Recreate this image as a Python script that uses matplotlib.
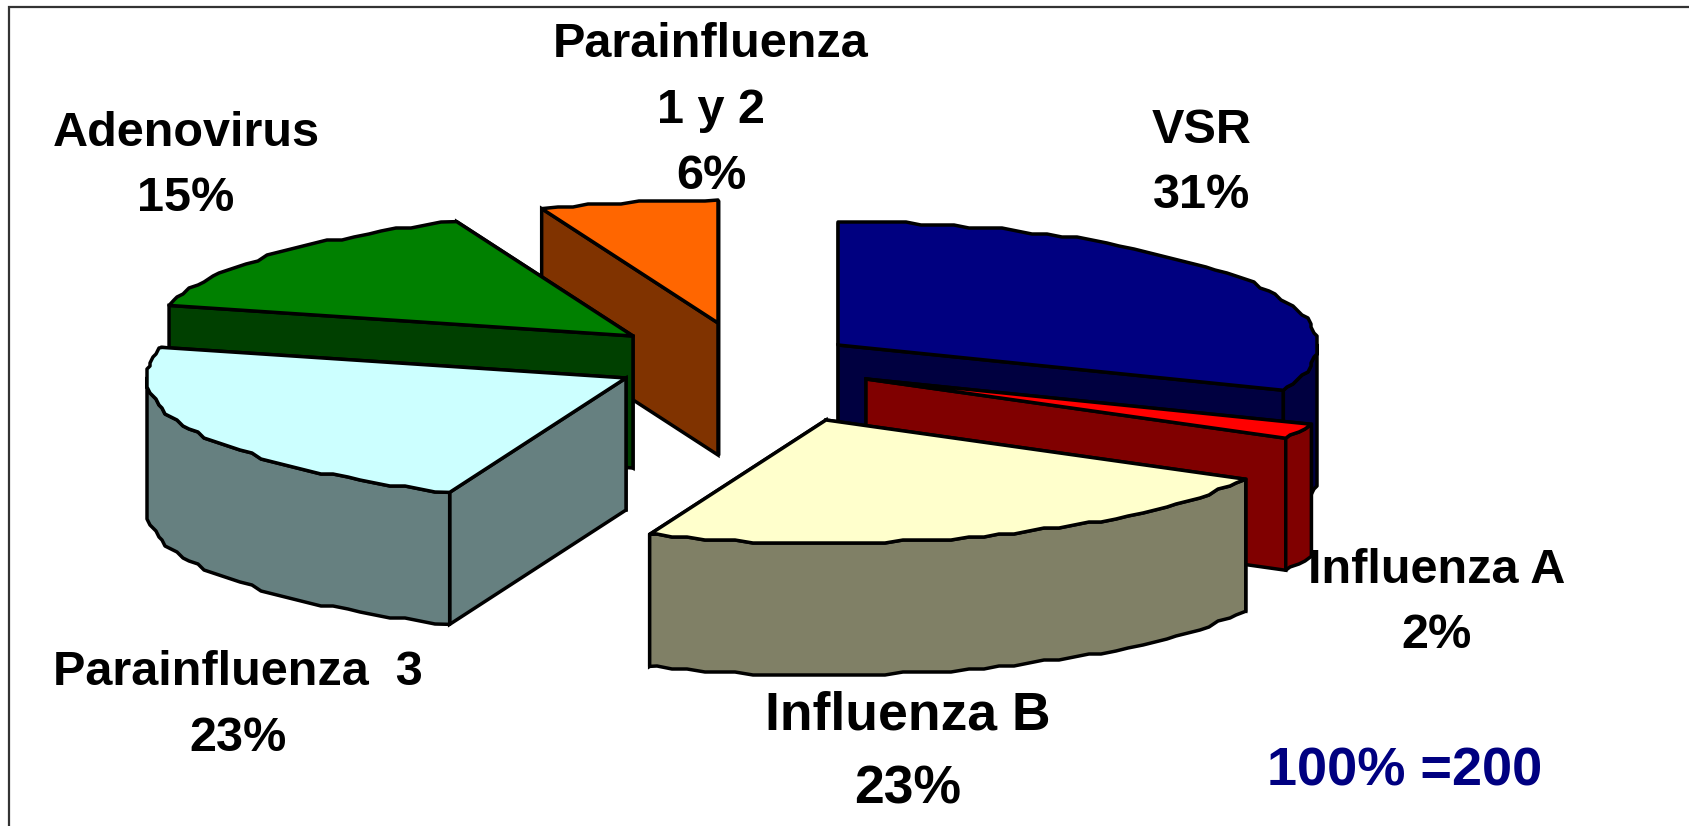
import numpy as np
import matplotlib
matplotlib.use("Agg")
import matplotlib.pyplot as plt
from matplotlib.patches import Polygon

plt.rcParams['font.family'] = ['Liberation Sans', 'DejaVu Sans']

# clockwise from 12 o'clock
names = ["VSR", "Influenza A", "Influenza B", "Parainfluenza  3", "Adenovirus", "Parainfluenza\n1 y 2"]
values = [31, 2, 23, 23, 15, 6]
total_n = 200

top_colors = ["#000080", "#FF0000", "#FFFFCC", "#CCFFFF", "#008000", "#FF6600"]
side_colors = ["#000040", "#800000", "#808066", "#668080", "#004000", "#803300"]

# exploded position of each slice tip, image pixels
tips = [(838, 345), (866, 379), (826, 420), (626, 378), (633, 336), (718, 323)]
draw_order = [5, 4, 0, 1, 3, 2]

RX, RY, DEPTH = 479, 123, 132
GRID = 3  # the reference rim is jagged, snap it to a coarse grid


def rim(tip, a0, a1):
    t = np.radians(np.arange(a0, a1, 2.0).tolist() + [a1])
    x = tip[0] + RX * np.sin(t)
    y = tip[1] - RY * np.cos(t)
    x[1:-1] = np.round(x[1:-1] / GRID) * GRID
    y[1:-1] = np.round(y[1:-1] / GRID) * GRID
    return np.column_stack([x, y])


def draw_slice(ax, tip, a0, a1, top, side):
    pts = rim(tip, a0, a1)
    down = np.array([0, DEPTH])
    tip = np.array(tip, dtype=float)
    faces = []
    for p in (pts[0], pts[-1]):
        faces.append(np.array([tip, p, p + down, tip + down]))
    # back cut faces first, the front ones paint over them
    faces.sort(key=lambda f: f[:, 1].mean())
    for f in faces:
        ax.add_patch(Polygon(f, fc=side, ec="black", lw=2.5, joinstyle="miter"))
    # outer wall only on the near half of the ellipse
    lo, hi = max(a0, 90), min(a1, 270)
    if lo < hi:
        arc = rim(tip, lo, hi)
        wall = np.vstack([arc, (arc + down)[::-1]])
        ax.add_patch(Polygon(wall, fc=side, ec="black", lw=2.5, joinstyle="round"))
    ax.add_patch(Polygon(np.vstack([tip, pts]), fc=top, ec="black", lw=2.5, joinstyle="round"))


fig = plt.figure(figsize=(16.9, 8.26), dpi=100, facecolor="white")
ax = fig.add_axes([0, 0, 1, 1])
ax.set_xlim(0, 1690)
ax.set_ylim(826, 0)
ax.axis("off")

# frame, only top and left show in the crop
ax.plot([9, 9, 1690], [826, 7, 7], color="#333333", lw=1.6, solid_joinstyle="miter")

edges = np.concatenate([[0], np.cumsum(values)]) * 3.6
for i in draw_order:
    draw_slice(ax, tips[i], edges[i], edges[i + 1], top_colors[i], side_colors[i])

# x centre, baseline of the name and of the percent, font size
label_pos = [
    (1202, [143], 208, 35),
    (1437, [583], 648, 35),
    (908, [730], 804, 38.5),
    (238, [685], 751, 35),
    (186, [146], 211, 35),
    (711, [57, 123], 189, 35),
]
for name, v, (x, ys, yp, fs) in zip(names, values, label_pos):
    for line, y in zip(name.split("\n"), ys):
        ax.text(x, y, line, ha="center", va="baseline", fontsize=fs, fontweight="bold", color="black")
    ax.text(x, yp, f"{v}%", ha="center", va="baseline", fontsize=fs, fontweight="bold", color="black")

ax.text(1405, 786, f"100% ={total_n}", ha="center", va="baseline", fontsize=39,
        fontweight="bold", color="#000080")

fig.savefig("out.png", dpi=100)
